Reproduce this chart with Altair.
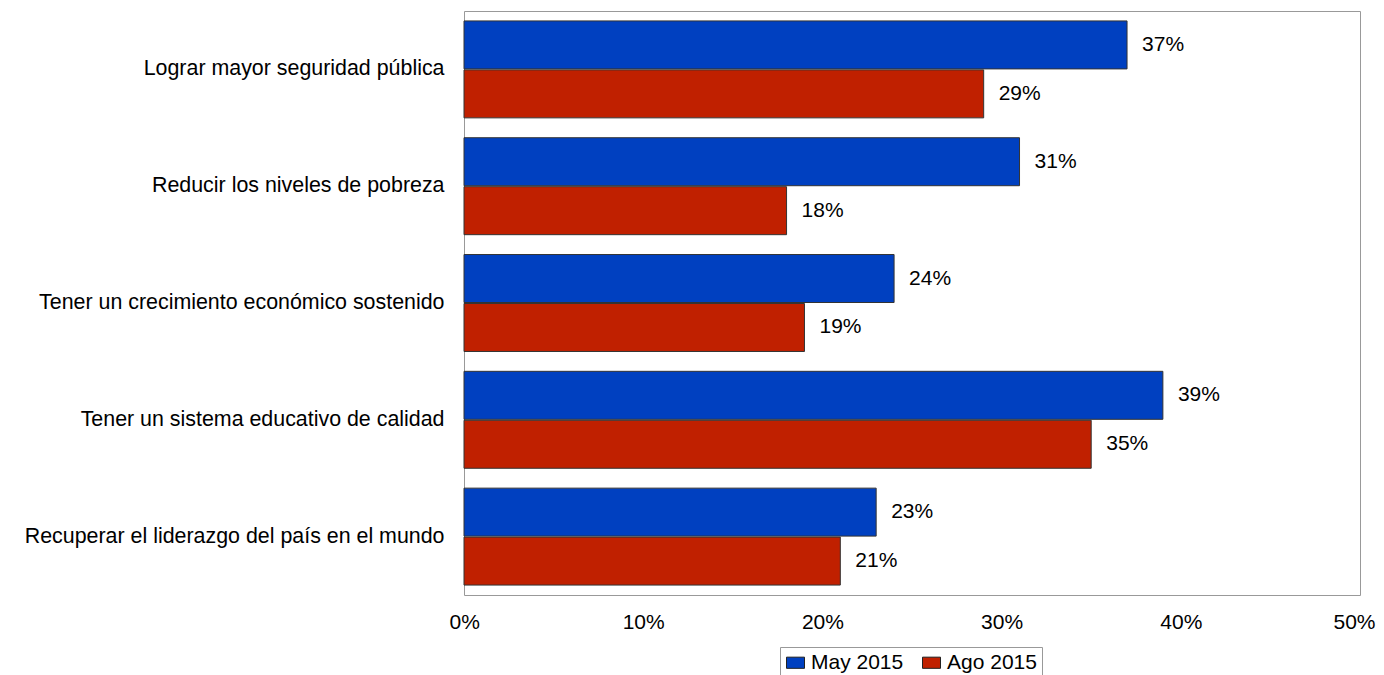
import altair as alt
import pandas as pd

categories = [
    "Lograr mayor seguridad pública",
    "Reducir los niveles de pobreza",
    "Tener un crecimiento económico sostenido",
    "Tener un sistema educativo de calidad",
    "Recuperar el liderazgo del país en el mundo",
]
series = ["May 2015", "Ago 2015"]
may_2015 = [37, 31, 24, 39, 23]
ago_2015 = [29, 18, 19, 35, 21]
colors = ["#0040C0", "#C02000"]
tick_values = [0, 0.1, 0.2, 0.3, 0.4, 0.5]

rows = []
for c, v in zip(categories, may_2015):
    rows.append({"cat": c, "serie": series[0], "val": v / 100, "lab": f"{v}%"})
for c, v in zip(categories, ago_2015):
    rows.append({"cat": c, "serie": series[1], "val": v / 100, "lab": f"{v}%"})
df = pd.DataFrame(rows)

FONT = "Liberation Sans"
FS = 21

y_enc = alt.Y(
    "cat:N",
    sort=categories,
    title=None,
    scale=alt.Scale(paddingInner=0.17, paddingOuter=0.085),
    axis=alt.Axis(
        ticks=False, domain=False, labelFontSize=21.4, labelFont=FONT,
        labelColor="#000", labelPadding=20, labelLimit=600,
    ),
)
x_enc = alt.X(
    "val:Q",
    title=None,
    scale=alt.Scale(domain=[0, 0.5], nice=False),
    axis=alt.Axis(
        format=".0%", values=tick_values, ticks=False,
        domain=False, grid=False, labelFontSize=FS, labelFont=FONT,
        labelColor="#000", labelPadding=16, labelFlush=True,
        labelFlushOffset=15,
    ),
)
yoff = alt.YOffset("serie:N", sort=series, scale=alt.Scale(paddingInner=0.02))

bars = alt.Chart(df).mark_bar(stroke="#333333", strokeWidth=1).encode(
    y=y_enc,
    x=x_enc,
    yOffset=yoff,
    color=alt.Color(
        "serie:N",
        sort=series,
        scale=alt.Scale(domain=series, range=colors),
        legend=alt.Legend(
            title=None, orient="none", legendX=316, legendY=636,
            direction="horizontal", columns=2, labelFontSize=FS,
            labelFont=FONT, labelColor="#000",
            symbolType="M-1,-0.62H1V0.62H-1Z", symbolSize=324,
            symbolStrokeColor="#222", symbolStrokeWidth=1,
            strokeColor="#999", padding=5, columnPadding=16,
            labelOffset=5, fillColor="white",
        ),
    ),
)

texts = alt.Chart(df).mark_text(
    align="left", baseline="middle", dx=15, fontSize=FS, font=FONT, color="#000"
).encode(
    y=alt.Y("cat:N", sort=categories),
    x="val:Q",
    yOffset=alt.YOffset("serie:N", sort=series),
    text="lab:N",
)

chart = (
    alt.layer(bars, texts)
    .properties(
        width=896,
        height=584,
        autosize=alt.AutoSizeParams(type="none"),
        padding={"left": 456, "top": 3, "right": 16, "bottom": 80},
    )
    .configure_view(stroke="#999999", strokeWidth=1)
)

chart.save("out.html", embed_options={"renderer": "svg", "actions": False})
